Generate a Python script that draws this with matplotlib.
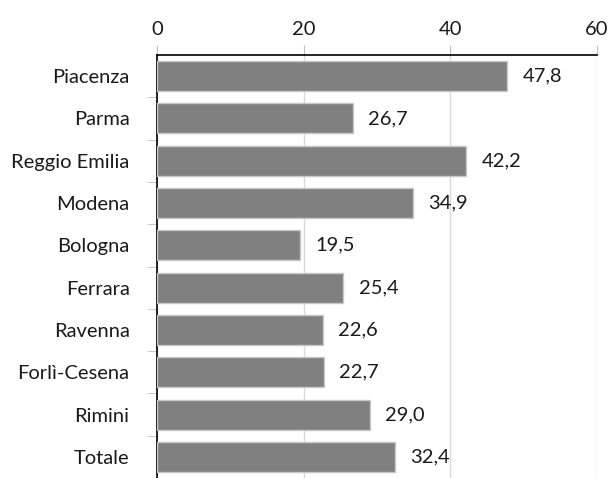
import matplotlib
matplotlib.use("Agg")
import matplotlib.pyplot as plt
from matplotlib.ticker import FixedLocator

categories = ["Piacenza", "Parma", "Reggio Emilia", "Modena", "Bologna",
              "Ferrara", "Ravenna", "Forlì-Cesena", "Rimini", "Totale"]
values = [47.8, 26.7, 42.2, 34.9, 19.5, 25.4, 22.6, 22.7, 29.0, 32.4]
xticks = [0, 20, 40, 60]

plt.rcParams['font.family'] = ['Lato', 'DejaVu Sans']
FS = 14.5

fig = plt.figure(figsize=(6.11, 4.78), dpi=100)
W, H = 611, 478
ax = fig.add_axes([157.3 / W, 0 / H, (596.8 - 157.3) / W, (478 - 55) / H])

n = len(categories)
ypos = list(range(n))
ax.barh(ypos, values, height=0.71, color="#808080", edgecolor="#c8c8c8",
        linewidth=1, zorder=3)
for y, v in zip(ypos, values):
    ax.text(v + 2.1, y, f"{v:.1f}".replace(".", ","), va="center", ha="left",
            fontsize=FS, color="#1a1a1a")

ax.set_xlim(0, 60)
ax.set_ylim(n - 0.5, -0.5)
ax.xaxis.tick_top()
ax.set_xticks(xticks)
ax.set_xticklabels([str(t) for t in xticks])
ax.tick_params(axis="x", length=7, color="#bfbfbf", labelsize=FS,
               labelcolor="#1a1a1a", pad=5)
ax.grid(axis="x", color="#d9d9d9", linewidth=1, zorder=0)

ax.set_yticks(ypos)
ax.set_yticklabels(categories)
ax.yaxis.set_minor_locator(FixedLocator([i + 0.5 for i in range(n - 1)]))
ax.tick_params(axis="y", which="major", length=0, labelsize=FS,
               labelcolor="#1a1a1a", pad=20)
ax.tick_params(axis="y", which="minor", length=7, color="#bfbfbf")

for s in ["right", "bottom"]:
    ax.spines[s].set_visible(False)
ax.spines["top"].set_color("black")
ax.spines["left"].set_color("black")
ax.spines["top"].set_linewidth(1.2)
ax.spines["left"].set_linewidth(1.2)

fig.savefig("out.png", dpi=100)
